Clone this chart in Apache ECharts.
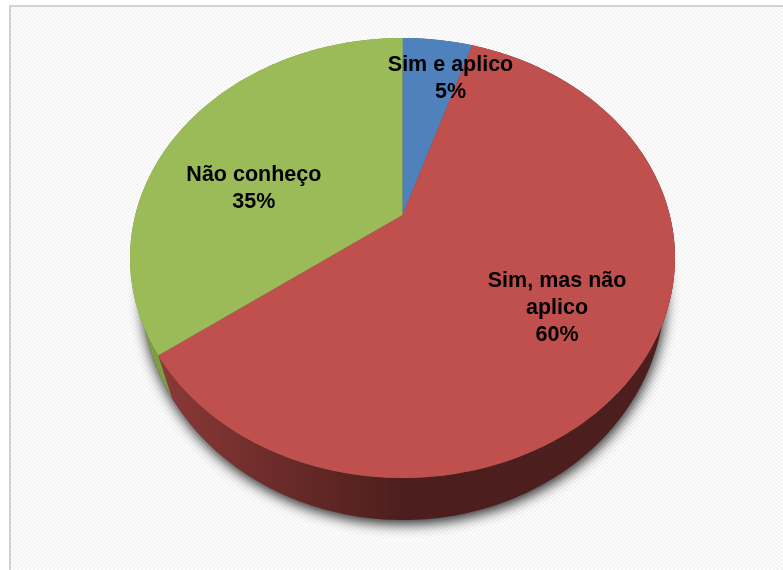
<!DOCTYPE html>
<html>
<head>
<meta charset="utf-8">
<style>html,body{margin:0;padding:0;background:#fff}#chart{width:783px;height:570px}</style>
<script src="https://cdn.jsdelivr.net/npm/echarts@6/dist/echarts.min.js"></script>
</head>
<body>
<div id="chart"></div>
<script>
// Answer shares, clockwise from twelve o'clock
const categories = ['Sim e aplico', 'Sim, mas não\naplico', 'Não conheço'];
const shares = [5, 60, 35];

const faceColors = ['#4f81bd', '#c0504d', '#9bbb59'];

// Tilted disc: outer ellipse of the top face, the vanishing factor and the rim ellipse
const TOP = { cx: 402.5, cy: 258, rx: 272.5, ry: 220 };
const TILT = 43 / 220;
const RIM = { cx: 403, cy: 289, rx: 262, ry: 231 };
const TAU = Math.PI * 2;

// Projects a point of the unit disc (clockwise angle from the top) on the tilted top face
function project(theta, r) {
  const X = r * Math.sin(theta), Y = r * Math.cos(theta);
  const k = 1 + TILT * Y;
  const a = TOP.rx * Math.sqrt(1 - TILT * TILT);
  return [TOP.cx + a * X / k, TOP.cy - (TOP.ry * Y + TOP.ry * TILT) / k];
}

// Rim point lying under a given point of the top edge; seams lean slightly towards the front
function rimPoint(p) {
  const s = (p[0] - TOP.cx) / TOP.rx, c = (TOP.cy - p[1]) / TOP.ry - 0.035;
  const n = Math.hypot(s, c);
  return [RIM.cx + RIM.rx * s / n, RIM.cy - RIM.ry * c / n];
}

function arc(from, to) {
  const n = Math.max(8, Math.ceil((to - from) * 60));
  const pts = [];
  for (let i = 0; i <= n; i++) pts.push(project(from + (to - from) * i / n, 1));
  return pts;
}

// Label placement per slice: radius along the mid angle, then a small nudge
const labelSpots = [
  { r: 0.85, dx: 17.5, dy: 16 },
  { r: 0.7, dx: -10, dy: -2 },
  { r: 0.6, dx: -13, dy: 28 }
];

const wallFills = [
  '#3a5f8c',
  { type: 'linear', global: true, x: 155, y: 0, x2: 405, y2: 0,
    colorStops: [{ offset: 0, color: '#8c3a38' }, { offset: 0.5, color: '#6b2b29' }, { offset: 1, color: '#4c1e1d' }] },
  '#7f9d45'
];

const total = shares.reduce((a, b) => a + b, 0);

function renderSlice(params, api) {
  const i = params.dataIndex;
  const before = shares.slice(0, i).reduce((a, b) => a + b, 0);
  const start = before / total * TAU;
  const end = start + api.value(0) / total * TAU;
  const edge = arc(start, end);
  const apex = project(0, 0);
  const children = [];

  if (i === 0) {
    // Soft cast shadow under the whole disc
    const ring = [];
    for (let k = 0; k < 180; k++) ring.push(rimPoint(project(k / 180 * TAU, 1)));
    children.push({
      type: 'polygon', z2: 0, shape: { points: ring },
      style: { fill: '#555', shadowBlur: 13, shadowColor: 'rgba(0,0,0,0.85)', shadowOffsetX: 1, shadowOffsetY: 4 }
    });
  }

  children.push({
    type: 'polygon', z2: 1,
    shape: { points: edge.concat(edge.map(rimPoint).reverse()) },
    style: { fill: wallFills[i] }
  });
  children.push({
    type: 'polygon', z2: 2,
    shape: { points: [apex].concat(edge) },
    style: { fill: faceColors[i] }
  });

  const spot = labelSpots[i];
  const anchor = project((start + end) / 2, spot.r);
  children.push({
    type: 'text', z2: 3,
    style: {
      text: categories[i] + '\n' + Math.round(api.value(0) / total * 100) + '%',
      x: anchor[0] + spot.dx, y: anchor[1] + spot.dy,
      align: 'center', verticalAlign: 'middle',
      fontFamily: '"Liberation Sans", Arial, sans-serif', fontWeight: 'bold',
      fontSize: 21.5, lineHeight: 27, fill: '#000'
    }
  });
  return { type: 'group', children: children };
}

// Faint diagonal hatch of the plot background
const hatch = document.createElement('canvas');
hatch.width = hatch.height = 4;
const hctx = hatch.getContext('2d');
for (let y = 0; y < 4; y++) {
  for (let x = 0; x < 4; x++) {
    hctx.fillStyle = ((x - y + 8) % 4) < 2 ? '#f3f3f3' : '#fefefe';
    hctx.fillRect(x, y, 1, 1);
  }
}

const chart = echarts.init(document.getElementById('chart'), null, { renderer: 'canvas' });
chart.setOption({
  animation: false,
  backgroundColor: '#ffffff',
  graphic: [
    { type: 'rect', z: -1, shape: { x: 9, y: 5, width: 790, height: 580 }, style: { fill: '#d2d2d2' } },
    { type: 'rect', z: -1, shape: { x: 11, y: 7, width: 790, height: 580 }, style: { fill: { image: hatch, repeat: 'repeat' } } }
  ],
  series: [{
    type: 'custom',
    coordinateSystem: 'none',
    renderItem: renderSlice,
    silent: true,
    data: shares.map(function (v, i) { return { name: categories[i], value: [v] }; })
  }]
});
</script>
</body>
</html>
